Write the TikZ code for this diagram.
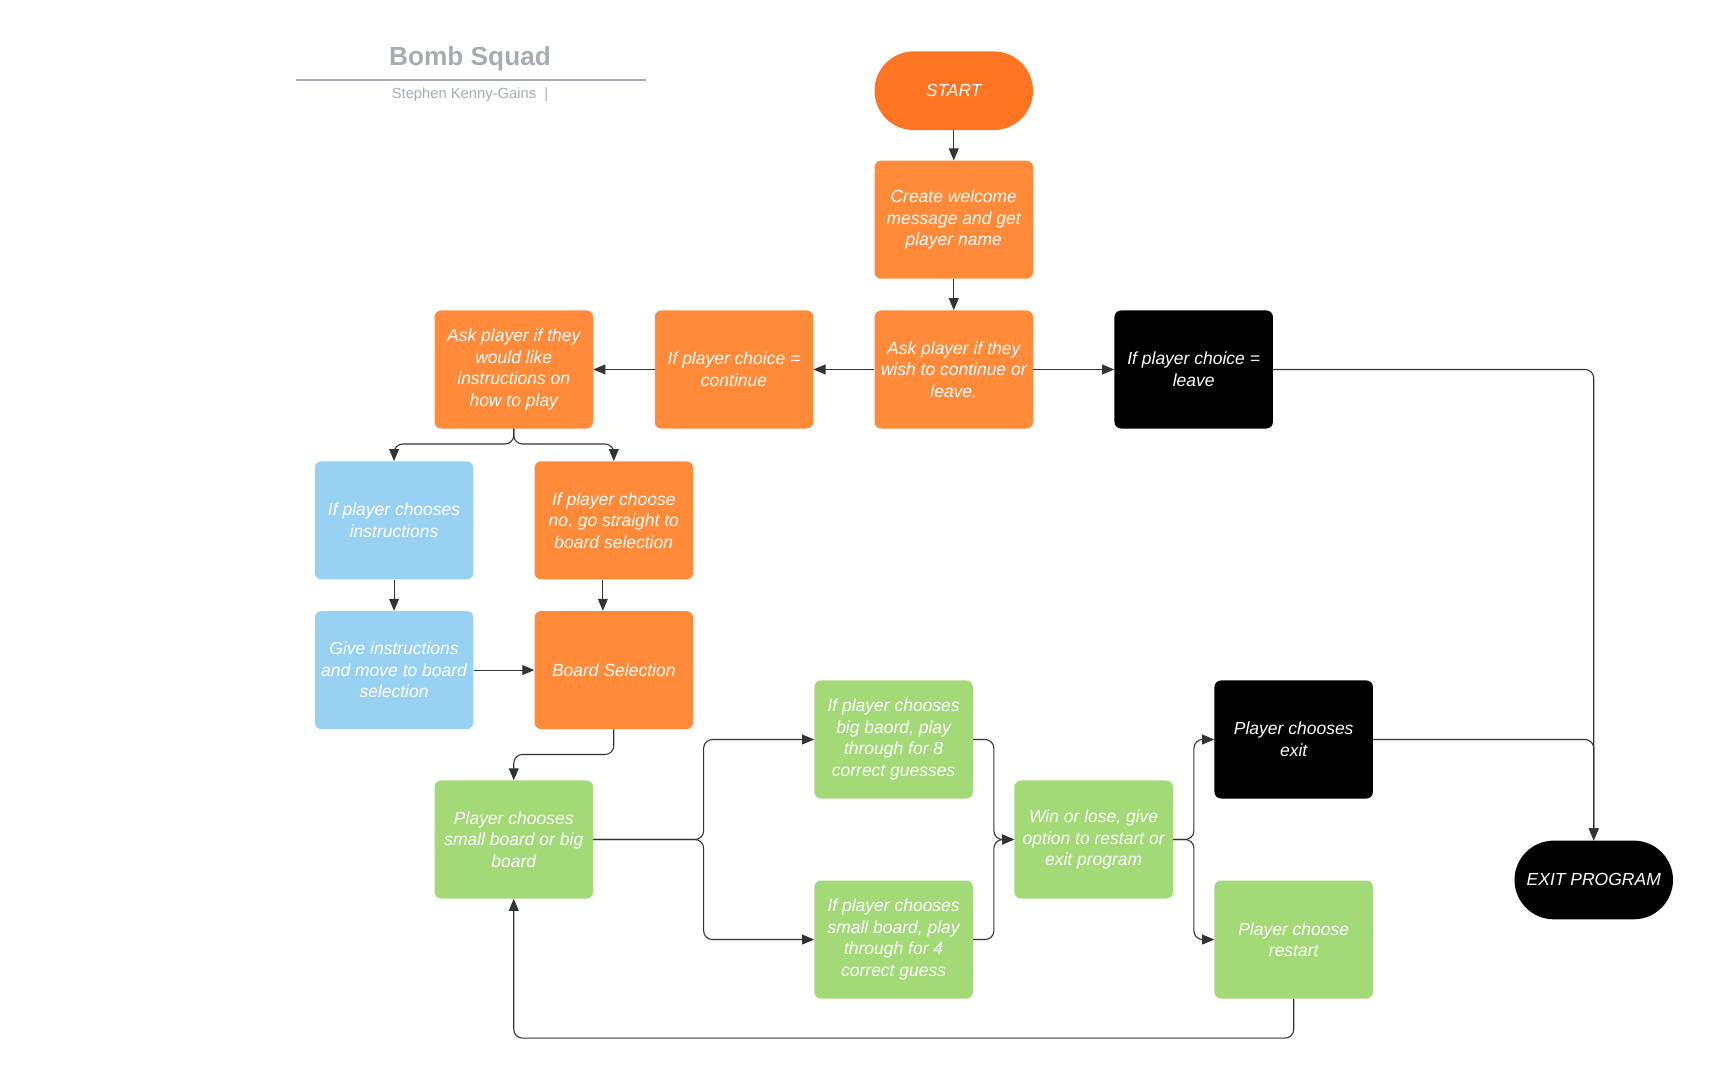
\documentclass[tikz,border=0pt]{standalone}
\usepackage{fontspec}
\setmainfont{Liberation Sans}
\usetikzlibrary{arrows.meta}

\definecolor{startorange}{HTML}{FF7422}
\definecolor{boxorange}{HTML}{FF8A3A}
\definecolor{boxgreen}{HTML}{A3D977}
\definecolor{boxblue}{HTML}{99D1F3}
\definecolor{linegray}{HTML}{333333}
\definecolor{titlegray}{HTML}{A7ACB4}

\begin{document}
\begin{tikzpicture}[x=1pt,y=-1pt,
  box/.style={rounded corners=6pt, minimum width=145pt, minimum height=108pt,
    inner sep=0pt, align=center, text=white,
    font=\itshape\fontsize{16}{19.7}\selectfont},
  orangebox/.style={box, fill=boxorange},
  greenbox/.style={box, fill=boxgreen},
  bluebox/.style={box, fill=boxblue},
  blackbox/.style={box, fill=black},
  terminal/.style={box, minimum height=72pt, rounded corners=36pt},
  line/.style={draw=linegray, line width=1pt, -{Triangle[length=11pt,width=9pt]}},
  elbow/.style={line, rounded corners=8pt}]

\useasboundingbox (0,0) rectangle (1568,988);

% title block
\node[font=\bfseries\fontsize{24}{28}\selectfont, text=titlegray] (title) at (430,54) {Bomb Squad};
\draw[titlegray, line width=1.5pt] (271,73) -- (591,73);
\node[font=\fontsize{13.5}{16}\selectfont, text=titlegray] (author) at (430,87) {Stephen Kenny-Gains~~|};

% top row
\node[terminal, fill=startorange] (start) at (872.5,83) {START};
\node[orangebox] (welcome) at (872.5,201) {Create welcome\\message and get\\player name};
\node[orangebox] (askcont) at (872.5,338) {Ask player if they\\wish to continue or\\leave.};
\node[orangebox] (cont) at (671.5,338) {If player choice =\\continue};
\node[orangebox] (askinstr) at (470,338) {Ask player if they\\would like\\instructions on\\how to play};
\node[blackbox] (leave) at (1092,338) {If player choice =\\leave};

% instructions
\node[bluebox] (instr) at (360.5,476) {If player chooses\\instructions};
\node[orangebox] (noinstr) at (561.5,476) {If player choose\\no, go straight to\\board selection};
\node[bluebox] (give) at (360.5,613) {Give instructions\\and move to board\\selection};
\node[orangebox] (board) at (561.5,613) {Board Selection};

% game
\node[greenbox] (choose) at (470,768) {Player chooses\\small board or big\\board};
\node[greenbox] (big) at (817.5,676.5) {If player chooses\\big baord, play\\through for 8\\correct guesses};
\node[greenbox] (small) at (817.5,859.5) {If player chooses\\small board, play\\through for 4\\correct guess};
\node[greenbox] (winlose) at (1000.5,768) {Win or lose, give\\option to restart or\\exit program};
\node[blackbox] (exitc) at (1183.5,676.5) {Player chooses\\exit};
\node[greenbox] (restart) at (1183.5,859.5) {Player choose\\restart};
\node[terminal, fill=black] (exitp) at (1458,805) {EXIT PROGRAM};

% connectors
\draw[line] (start) -- (welcome);
\draw[line] (welcome) -- (askcont);
\draw[line] (askcont) -- (cont);
\draw[line] (cont) -- (askinstr);
\draw[line] (askcont) -- (leave);
\draw[elbow] (leave.east) -| (exitp.north);

\draw[elbow] (askinstr.south) -- ++(0,14) -| (instr.north);
\draw[elbow] (askinstr.south) -- ++(0,14) -| (noinstr.north);
\draw[line] (instr) -- (give);
\draw[line] ([xshift=-10pt]noinstr.south) -- ([xshift=-10pt]board.north);
\draw[line] (give) -- (board);
\draw[elbow] (board.south) -- ++(0,23) -| (choose.north);

\draw[elbow] (choose.east) -- ++(101,0) |- (big.west);
\draw[elbow] (choose.east) -- ++(101,0) |- (small.west);
\draw[elbow] (big.east) -- ++(19,0) |- (winlose.west);
\draw[elbow] (small.east) -- ++(19,0) |- (winlose.west);
\draw[elbow] (winlose.east) -- ++(19,0) |- (exitc.west);
\draw[elbow] (winlose.east) -- ++(19,0) |- (restart.west);
\draw[elbow] (exitc.east) -| (exitp.north);
\draw[elbow] (restart.south) -- ++(0,36) -| (choose.south);

\end{tikzpicture}
\end{document}
